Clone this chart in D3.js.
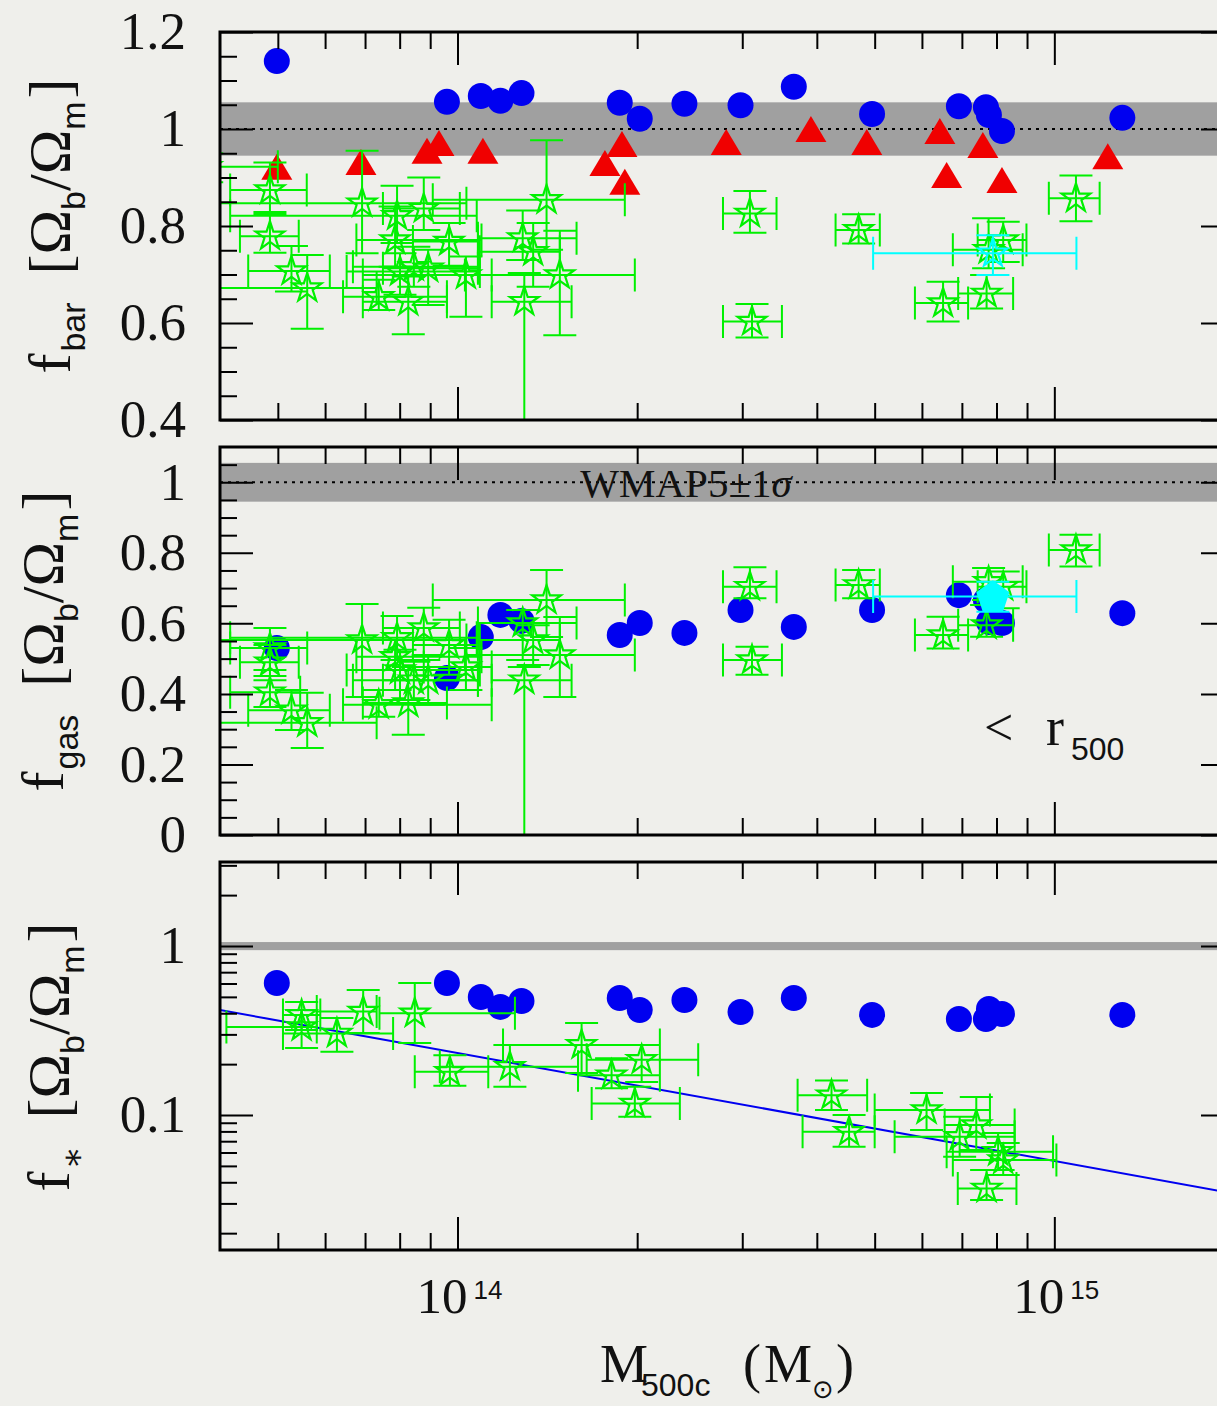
<!DOCTYPE html>
<html>
<head>
<meta charset="utf-8">
<script src="https://cdn.jsdelivr.net/npm/d3@7"></script>
<style>
  body { margin: 0; background: #efefeb; }
  svg { display: block; }
</style>
</head>
<body>
<svg id="chart"></svg>
<script>
// masses are in units of 1e14 Msun
const massBlue  = [0.498, 0.960, 1.094, 1.18, 1.28, 1.87, 2.02, 2.40, 2.98, 3.66, 4.95, 6.92, 7.68, 7.77, 8.17, 13.0];
const fbarBlue  = [1.140, 1.056, 1.068, 1.058, 1.074, 1.054, 1.021, 1.052, 1.049, 1.087, 1.031, 1.047, 1.045, 1.029, 0.996, 1.023];
const fgasBlue  = [0.530, 0.445, 0.561, 0.624, 0.607, 0.567, 0.601, 0.573, 0.638, 0.590, 0.638, 0.680, 0.666, 0.604, 0.601, 0.629];
const fstarBlue = [0.604, 0.604, 0.499, 0.436, 0.473, 0.492, 0.418, 0.479, 0.407, 0.492, 0.391, 0.370, 0.370, 0.424, 0.396, 0.391];

const massRed = [0.498, 0.689, 0.889, 0.931, 1.103, 1.766, 1.886, 1.907, 2.82, 3.91, 4.85, 6.43, 6.60, 7.59, 8.17, 12.29];
const fbarRed = [0.922, 0.932, 0.955, 0.971, 0.955, 0.930, 0.969, 0.891, 0.973, 1.000, 0.973, 0.996, 0.905, 0.967, 0.895, 0.944];

// observed clusters: [M, Mlo, Mhi, f, flo, fhi]
const obsBar = [
  [0.485, 0.416, 0.559, 0.874, 0.829, 0.931],
  [0.485, 0.432, 0.542, 0.779, 0.745, 0.825],
  [0.527, 0.446, 0.611, 0.707, 0.665, 0.759],
  [0.560, 0.395, 0.732, 0.672, 0.588, 0.740],
  [0.692, 0.390, 1.035, 0.847, 0.744, 0.955],
  [0.792, 0.416, 1.077, 0.821, 0.765, 0.883],
  [0.786, 0.677, 1.097, 0.771, 0.716, 0.840],
  [0.878, 0.750, 1.009, 0.836, 0.792, 0.900],
  [0.968, 0.842, 1.082, 0.768, 0.718, 0.806],
  [0.801, 0.652, 1.090, 0.706, 0.658, 0.744],
  [0.845, 0.668, 1.082, 0.716, 0.675, 0.757],
  [0.893, 0.750, 1.082, 0.713, 0.637, 0.751],
  [0.738, 0.643, 0.960, 0.654, 0.627, 0.689],
  [0.827, 0.694, 0.960, 0.644, 0.577, 0.696],
  [1.033, 0.694, 1.141, 0.699, 0.613, 0.737],
  [1.286, 1.082, 1.583, 0.775, 0.730, 0.832],
  [1.339, 1.090, 1.484, 0.747, 0.675, 0.806],
  [1.410, 0.909, 1.907, 0.854, 0.751, 0.977],
  [1.484, 1.029, 1.982, 0.699, 0.575, 0.790],
  [1.294, 1.141, 1.553, 0.644, 0.300, 0.703],
  [0.380, 0.300, 0.500, 0.922, 0.890, 0.950],
  [3.09, 2.785, 3.424, 0.826, 0.786, 0.872],
  [3.115, 2.785, 3.496, 0.603, 0.570, 0.639],
  [4.70, 4.30, 5.10, 0.792, 0.764, 0.824],
  [6.51, 5.84, 7.17, 0.641, 0.603, 0.685],
  [7.70, 6.90, 8.53, 0.661, 0.630, 0.699],
  [7.76, 6.76, 8.85, 0.751, 0.713, 0.816],
  [8.21, 7.44, 8.98, 0.771, 0.726, 0.809],
  [10.87, 9.79, 11.91, 0.857, 0.810, 0.904]
];

const obsGas = [
  [0.485, 0.416, 0.560, 0.530, 0.468, 0.587],
  [0.485, 0.432, 0.542, 0.490, 0.439, 0.539],
  [0.485, 0.416, 0.545, 0.405, 0.363, 0.451],
  [0.527, 0.446, 0.611, 0.354, 0.298, 0.411],
  [0.560, 0.395, 0.732, 0.318, 0.247, 0.403],
  [0.692, 0.390, 1.035, 0.553, 0.391, 0.655],
  [0.792, 0.416, 1.077, 0.559, 0.496, 0.621],
  [0.786, 0.677, 1.097, 0.505, 0.411, 0.553],
  [0.878, 0.750, 1.009, 0.587, 0.496, 0.644],
  [0.968, 0.842, 1.082, 0.539, 0.454, 0.610],
  [0.801, 0.652, 1.090, 0.468, 0.383, 0.525],
  [0.845, 0.668, 1.082, 0.439, 0.383, 0.491],
  [0.893, 0.750, 1.082, 0.439, 0.369, 0.510],
  [0.738, 0.643, 1.141, 0.369, 0.335, 0.411],
  [0.827, 0.694, 0.960, 0.374, 0.284, 0.476],
  [1.033, 0.878, 1.141, 0.476, 0.411, 0.530],
  [1.286, 1.082, 1.583, 0.601, 0.496, 0.638],
  [1.339, 1.090, 1.484, 0.553, 0.482, 0.595],
  [1.410, 0.909, 1.907, 0.666, 0.561, 0.751],
  [1.484, 1.029, 1.982, 0.510, 0.391, 0.618],
  [1.294, 1.141, 1.553, 0.439, 0.000, 0.476],
  [3.09, 2.785, 3.424, 0.704, 0.671, 0.759],
  [3.115, 2.785, 3.496, 0.496, 0.454, 0.534],
  [4.70, 4.30, 5.10, 0.709, 0.671, 0.751],
  [6.51, 5.84, 7.17, 0.567, 0.529, 0.619],
  [7.70, 6.90, 8.53, 0.595, 0.562, 0.652],
  [7.76, 6.76, 8.85, 0.718, 0.666, 0.757],
  [8.21, 7.44, 8.98, 0.704, 0.643, 0.747],
  [10.87, 9.79, 11.91, 0.808, 0.761, 0.851]
];

const obsStar = [
  [0.548, 0.510, 0.589, 0.391, 0.318, 0.466],
  [0.548, 0.410, 0.581, 0.332, 0.249, 0.418],
  [0.628, 0.510, 0.780, 0.304, 0.237, 0.375],
  [0.695, 0.581, 0.732, 0.409, 0.306, 0.549],
  [0.848, 0.740, 1.248, 0.400, 0.267, 0.604],
  [0.971, 0.848, 1.126, 0.180, 0.149, 0.226],
  [1.224, 0.934, 1.592, 0.193, 0.147, 0.260],
  [1.614, 1.192, 2.183, 0.260, 0.177, 0.350],
  [1.812, 1.592, 2.183, 0.172, 0.144, 0.217],
  [2.035, 1.646, 2.531, 0.212, 0.157, 0.260],
  [1.982, 1.678, 2.358, 0.117, 0.0977, 0.147],
  [4.233, 3.714, 4.857, 0.131, 0.107, 0.160],
  [4.53, 3.786, 5.00, 0.0796, 0.0649, 0.100],
  [6.108, 5.00, 7.80, 0.107, 0.0815, 0.135],
  [6.94, 5.40, 8.58, 0.0744, 0.0567, 0.0977],
  [7.40, 6.55, 8.58, 0.0873, 0.0621, 0.128],
  [8.05, 6.60, 9.95, 0.0607, 0.0473, 0.0782],
  [8.21, 6.76, 10.08, 0.0542, 0.0442, 0.0683],
  [7.70, 6.89, 8.64, 0.0368, 0.0314, 0.0473]
];

// stacked cluster (cyan), [M, Mlo, Mhi, f, flo, fhi]
const stackBar = [[7.89, 4.97, 10.89, 0.744, 0.699, 0.781]];
const stackGas = [[7.89, 4.97, 10.89, 0.676, 0.633, 0.718]];

// stellar fraction fit, [M, f] at the ends
const fitLine = [[0.4, 0.418], [20, 0.0343]];

const wmapBand = [0.945, 1.055];

const xMajor = [1, 10];
const xMinor = [0.5, 0.6, 0.7, 0.8, 0.9, 2, 3, 4, 5, 6, 7, 8, 9, 20];
const xLabels = [['10', '14'], ['10', '15']];

const barMajor = [0.4, 0.6, 0.8, 1.0, 1.2];
const barMinor = [0.45, 0.5, 0.55, 0.65, 0.7, 0.75, 0.85, 0.9, 0.95, 1.05, 1.1, 1.15];
const barLabels = ['0.4', '0.6', '0.8', '1', '1.2'];

const gasMajor = [0, 0.2, 0.4, 0.6, 0.8, 1.0];
const gasMinor = [0.05, 0.1, 0.15, 0.25, 0.3, 0.35, 0.45, 0.5, 0.55, 0.65, 0.7, 0.75, 0.85, 0.9, 0.95, 1.05];
const gasLabels = ['0', '0.2', '0.4', '0.6', '0.8', '1'];

const starMajor = [0.1, 1];
const starMinor = [0.02, 0.03, 0.04, 0.05, 0.06, 0.07, 0.08, 0.09, 0.2, 0.3, 0.4, 0.5, 0.6, 0.7, 0.8, 0.9, 2, 3];
const starLabels = ['0.1', '1'];

const width = 1217;
const height = 1406;
const left = 220;
const right = 1234;
const serif = "'Liberation Serif', 'DejaVu Serif', serif";
const sans = "'Liberation Sans', 'DejaVu Sans', sans-serif";

const blue = '#0000f0';
const red = '#f00000';
const green = '#00f000';
const cyan = '#00ffff';

const svg = d3.select('#chart').attr('width', width).attr('height', height);
svg.append('rect').attr('width', width).attr('height', height).attr('fill', '#efefeb');

const xScale = d3.scaleLog().domain([0.4, 20]).range([left, right]);

const panels = [
  {key: 'bar', top: 32, bottom: 420, scale: d3.scaleLinear().domain([0.4, 1.2]),
   major: barMajor, minor: barMinor, labels: barLabels, dotted: true,
   blue: fbarBlue, red: fbarRed, obs: obsBar, stack: stackBar, stackShape: 'star'},
  {key: 'gas', top: 447, bottom: 835, scale: d3.scaleLinear().domain([0, 1.1]),
   major: gasMajor, minor: gasMinor, labels: gasLabels, dotted: true,
   blue: fgasBlue, red: null, obs: obsGas, stack: stackGas, stackShape: 'pentagon'},
  {key: 'star', top: 862, bottom: 1250, scale: d3.scaleLog().domain([0.0159, 3.14]),
   major: starMajor, minor: starMinor, labels: starLabels, dotted: false,
   blue: fstarBlue, red: null, obs: obsStar, stack: [], fit: fitLine}
];

const starPath = d3.symbol(d3.symbolStar, 255)();
const triPath = 'M0,-13L15.5,13L-15.5,13Z';
const pentPath = d3.line()(d3.range(5).map(k => {
  const a = -Math.PI / 2 + k * 2 * Math.PI / 5;
  return [16 * Math.cos(a), 16 * Math.sin(a) + 1];
})) + 'Z';

const cap = 16.5;

const errPath = (y) => (r) => {
  const [m, mlo, mhi, f, flo, fhi] = r;
  const cx = xScale(m), cy = y(f);
  const x0 = xScale(mlo), x1 = xScale(mhi);
  const y0 = y(flo), y1 = y(fhi);
  return `M${x0},${cy}H${x1}` +
    `M${x0},${cy - cap}V${cy + cap}M${x1},${cy - cap}V${cy + cap}` +
    `M${cx},${y0}V${y1}` +
    `M${cx - cap},${y0}H${cx + cap}M${cx - cap},${y1}H${cx + cap}`;
};

const drawPanel = (p) => {
  const y = p.scale.range([p.bottom, p.top]);
  const clipId = 'clip-' + p.key;
  svg.append('clipPath').attr('id', clipId)
    .append('rect')
    .attr('x', left).attr('y', p.top)
    .attr('width', right - left).attr('height', p.bottom - p.top);

  const plot = svg.append('g').attr('clip-path', `url(#${clipId})`);

  plot.append('rect')
    .attr('x', left).attr('width', right - left)
    .attr('y', y(wmapBand[1]))
    .attr('height', y(wmapBand[0]) - y(wmapBand[1]))
    .attr('fill', '#a0a0a0');

  if (p.dotted) {
    plot.append('line')
      .attr('x1', left).attr('x2', right)
      .attr('y1', y(1)).attr('y2', y(1))
      .attr('stroke', '#000').attr('stroke-width', 2)
      .attr('stroke-dasharray', '3,5');
  }

  if (p.fit) {
    plot.append('path')
      .attr('d', d3.line().x(d => xScale(d[0])).y(d => y(d[1]))(p.fit))
      .attr('fill', 'none').attr('stroke', blue).attr('stroke-width', 2);
  }

  plot.selectAll('circle.blue')
    .data(massBlue.map((m, i) => [m, p.blue[i]]))
    .enter().append('circle')
    .attr('class', 'blue')
    .attr('cx', d => xScale(d[0])).attr('cy', d => y(d[1]))
    .attr('r', 13).attr('fill', blue);

  if (p.red) {
    plot.selectAll('path.red')
      .data(massRed.map((m, i) => [m, p.red[i]]))
      .enter().append('path')
      .attr('class', 'red')
      .attr('d', triPath)
      .attr('transform', d => `translate(${xScale(d[0])},${y(d[1])})`)
      .attr('fill', red);
  }

  plot.selectAll('path.err')
    .data(p.obs)
    .enter().append('path')
    .attr('class', 'err')
    .attr('d', errPath(y))
    .attr('fill', 'none').attr('stroke', green).attr('stroke-width', 2);

  plot.selectAll('path.obs')
    .data(p.obs)
    .enter().append('path')
    .attr('class', 'obs')
    .attr('d', starPath)
    .attr('transform', d => `translate(${xScale(d[0])},${y(d[3])})`)
    .attr('fill', 'none').attr('stroke', green).attr('stroke-width', 2.2);

  plot.selectAll('path.stackerr')
    .data(p.stack)
    .enter().append('path')
    .attr('class', 'stackerr')
    .attr('d', errPath(y))
    .attr('fill', 'none').attr('stroke', cyan).attr('stroke-width', 2);

  plot.selectAll('path.stack')
    .data(p.stack)
    .enter().append('path')
    .attr('class', 'stack')
    .attr('d', p.stackShape === 'star' ? starPath : pentPath)
    .attr('transform', d => `translate(${xScale(d[0])},${y(d[3])})`)
    .attr('fill', p.stackShape === 'star' ? 'none' : cyan)
    .attr('stroke', cyan).attr('stroke-width', 2.2);

  // ticks on all four sides, pointing inward
  const axes = svg.append('g');
  const addAxis = (axis, tx, ty, size) => {
    const g = axes.append('g')
      .attr('transform', `translate(${tx},${ty})`)
      .call(axis.tickSize(-size));
    g.select('.domain').remove();
    g.selectAll('.tick line').attr('stroke', '#000').attr('stroke-width', 2);
    return g;
  };
  addAxis(d3.axisBottom(xScale).tickValues(xMajor).tickFormat(''), 0, p.bottom, 33);
  addAxis(d3.axisBottom(xScale).tickValues(xMinor).tickFormat(''), 0, p.bottom, 17);
  addAxis(d3.axisTop(xScale).tickValues(xMajor).tickFormat(''), 0, p.top, 33);
  addAxis(d3.axisTop(xScale).tickValues(xMinor).tickFormat(''), 0, p.top, 17);
  addAxis(d3.axisRight(y).tickValues(p.major).tickFormat(''), right, 0, 33);
  addAxis(d3.axisRight(y).tickValues(p.minor).tickFormat(''), right, 0, 17);
  addAxis(d3.axisLeft(y).tickValues(p.minor).tickFormat(''), left, 0, 17);
  const yl = addAxis(d3.axisLeft(y).tickValues(p.major).tickPadding(34)
    .tickFormat((d, i) => p.labels[i]), left, 0, 33);
  yl.attr('font-family', serif).attr('font-size', 53);
  yl.selectAll('.tick text').attr('fill', '#111');

  svg.append('rect')
    .attr('x', left).attr('y', p.top)
    .attr('width', right - left).attr('height', p.bottom - p.top)
    .attr('fill', 'none').attr('stroke', '#000').attr('stroke-width', 3);
};

panels.forEach(drawPanel);

// y titles
const yTitle = (cx, cy, subText, subFont) => {
  const t = svg.append('text')
    .attr('transform', `translate(${cx},${cy}) rotate(-90)`)
    .attr('text-anchor', 'middle')
    .attr('fill', '#111')
    .style('font-family', serif).style('font-size', '60px');
  t.append('tspan').text('f');
  t.append('tspan').attr('dy', 15).attr('dx', 2).style('font-family', subFont).style('font-size', '34px').text(subText);
  t.append('tspan').attr('dy', -15).attr('dx', 28).text('[\u03A9');
  t.append('tspan').attr('dy', 15).style('font-family', sans).style('font-size', '34px').text('b');
  t.append('tspan').attr('dy', -15).text('/\u03A9');
  t.append('tspan').attr('dy', 15).style('font-family', sans).style('font-size', '34px').text('m');
  t.append('tspan').attr('dy', -15).attr('dx', 3).text(']');
};
yTitle(70, 226, 'bar', sans);
yTitle(63, 641, 'gas', sans);
yTitle(69, 1057, '\u2217', "'DejaVu Serif', serif");

// x tick labels with exponents
const xl = svg.append('g');
xMajor.forEach((v, i) => {
  const t = xl.append('text')
    .attr('x', xScale(v) + 2).attr('y', 1313)
    .attr('text-anchor', 'middle')
    .attr('fill', '#111')
    .style('font-family', serif).style('font-size', '51px');
  t.append('tspan').text(xLabels[i][0]);
  t.append('tspan').attr('dy', -14).attr('dx', 6)
    .style('font-family', sans).style('font-size', '26px').text(xLabels[i][1]);
});

// x title
const xt = svg.append('g').attr('fill', '#111');
const xtMain = (x, s) => xt.append('text').attr('x', x).attr('y', 1382)
  .style('font-family', serif).style('font-size', '54px').text(s);
xtMain(600, 'M');
xt.append('text').attr('x', 641).attr('y', 1396)
  .style('font-family', sans).style('font-size', '32px').text('500c');
xtMain(743, '(');
xtMain(764, 'M');
xt.append('text').attr('x', 812).attr('y', 1398)
  .style('font-family', "'DejaVu Sans', sans-serif").style('font-size', '26px').text('\u2299');
xtMain(836, ')');

// annotations
const wm = svg.append('text')
  .attr('x', 686).attr('y', 497).attr('text-anchor', 'middle').attr('fill', '#111')
  .style('font-family', serif).style('font-size', '41px');
wm.append('tspan').text('WMAP5\u00B11');
wm.append('tspan').style('font-style', 'italic').text('\u03C3');

const rr = svg.append('g').attr('fill', '#111');
rr.append('text').attr('x', 984).attr('y', 745)
  .style('font-family', serif).style('font-size', '52px').text('<');
rr.append('text').attr('x', 1046).attr('y', 745)
  .style('font-family', serif).style('font-size', '54px').text('r');
rr.append('text').attr('x', 1071).attr('y', 760)
  .style('font-family', sans).style('font-size', '32px').text('500');
</script>
</body>
</html>
